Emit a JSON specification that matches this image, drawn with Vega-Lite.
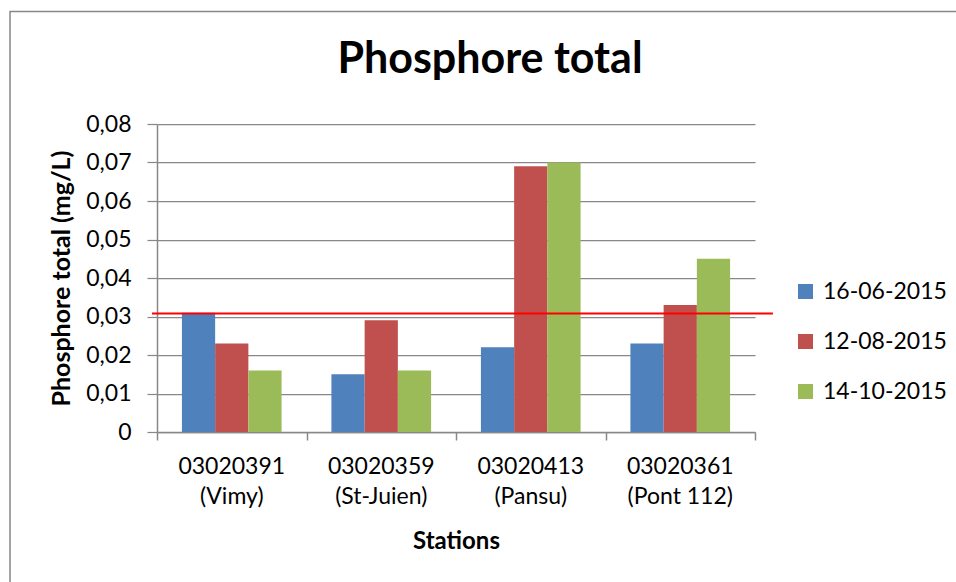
{
  "$schema": "https://vega.github.io/schema/vega-lite/v6.json",
  "width": 598,
  "height": 308,
  "autosize": {"type": "none"},
  "padding": {"left": 157, "top": 124, "right": 201, "bottom": 150},
  "background": "white",
  "config": {
    "font": "Lato",
    "view": {"stroke": null},
    "axisY": {
      "values": [0, 0.01, 0.02, 0.03, 0.04, 0.05, 0.06, 0.07, 0.08],
      "labelOverlap": false,
      "labelExpr": "datum.value == 0 ? '0' : replace(format(datum.value, '.2f'), '.', ',')",
      "grid": true, "gridColor": "#888888", "gridWidth": 1.25, "tickSize": 10, "tickColor": "#888888", "tickWidth": 1.25,
      "domainColor": "#888888", "domainWidth": 1.5, "labelFontSize": 23, "labelPadding": 16, "labelColor": "black",
      "titleFontSize": 25, "titleFontWeight": "bold", "titleColor": "black", "titlePadding": 11
    }
  },
  "title": {
    "text": "Phosphore total",
    "font": "Lato",
    "fontSize": 43,
    "fontWeight": "bold",
    "color": "black",
    "anchor": "middle",
    "frame": "group",
    "baseline": "alphabetic",
    "dx": 34,
    "dy": 105,
    "offset": 0
  },
  "layer": [
    {
      "data": {"values": [{}]},
      "mark": {"type": "rect", "fill": null, "stroke": "#878787", "strokeWidth": 1.5, "clip": false},
      "encoding": {
        "x": {"datum": -0.2458, "type": "quantitative", "scale": {"domain": [0, 1], "nice": false, "zero": false},
          "axis": {"orient": "bottom", "values": [0, 0.25, 0.5, 0.75, 1], "labels": false, "ticks": true, "tickSize": 8, "tickColor": "#888888", "tickWidth": 1.5, "domain": true, "domainColor": "#888888", "domainWidth": 1.5, "grid": false, "title": null}},
        "x2": {"datum": 1.6},
        "y": {"datum": 0.1092, "type": "quantitative", "scale": {"domain": [0, 0.08], "nice": false}, "title": "Phosphore total (mg/L)"},
        "y2": {"datum": -0.1}
      }
    },
    {
      "data": {"values": [
        {"station": "03020391 (Vimy)", "date": "16-06-2015", "value": 0.031},
        {"station": "03020391 (Vimy)", "date": "12-08-2015", "value": 0.023},
        {"station": "03020391 (Vimy)", "date": "14-10-2015", "value": 0.016},
        {"station": "03020359 (St-Juien)", "date": "16-06-2015", "value": 0.015},
        {"station": "03020359 (St-Juien)", "date": "12-08-2015", "value": 0.029},
        {"station": "03020359 (St-Juien)", "date": "14-10-2015", "value": 0.016},
        {"station": "03020413 (Pansu)", "date": "16-06-2015", "value": 0.022},
        {"station": "03020413 (Pansu)", "date": "12-08-2015", "value": 0.069},
        {"station": "03020413 (Pansu)", "date": "14-10-2015", "value": 0.070},
        {"station": "03020361 (Pont 112)", "date": "16-06-2015", "value": 0.023},
        {"station": "03020361 (Pont 112)", "date": "12-08-2015", "value": 0.033},
        {"station": "03020361 (Pont 112)", "date": "14-10-2015", "value": 0.045}
      ]},
      "mark": {"type": "bar"},
      "encoding": {
        "x": {"field": "station", "type": "nominal", "sort": null,
          "scale": {"paddingInner": 0.3333, "paddingOuter": 0.1667},
          "axis": {"orient": "bottom", "title": "Stations", "labelExpr": "[slice(datum.label, 0, 8), slice(datum.label, 9)]",
            "ticks": false, "domain": false, "grid": false, "labelAngle": 0, "labelFontSize": 23, "labelLineHeight": 30,
            "labelPadding": 23, "labelColor": "black", "labelBaseline": "top",
            "titleFontSize": 24, "titleFontWeight": "bold", "titleColor": "black", "titlePadding": 21}},
        "xOffset": {"field": "date", "type": "nominal", "sort": null},
        "y": {"field": "value", "type": "quantitative", "scale": {"domain": [0, 0.08], "nice": false}, "title": "Phosphore total (mg/L)"},
        "color": {"field": "date", "type": "nominal", "sort": null,
          "scale": {"domain": ["16-06-2015", "12-08-2015", "14-10-2015"], "range": ["#4F81BD", "#C0504D", "#9BBB59"]},
          "legend": {"orient": "none", "legendX": 637, "legendY": 156, "title": null, "symbolType": "square",
            "symbolSize": 225, "symbolStrokeWidth": 0, "labelFontSize": 23, "labelColor": "black", "labelOffset": 6, "rowPadding": 26, "padding": 0}}
      }
    },
    {
      "data": {"values": [{"seuil": 0.0308}]},
      "mark": {"type": "rule", "color": "#FF0000", "strokeWidth": 2, "clip": false},
      "encoding": {
        "x": {"datum": -0.0084, "type": "quantitative", "scale": {"domain": [0, 1], "nice": false, "zero": false}, "axis": null},
        "x2": {"datum": 1.03},
        "y": {"field": "seuil", "type": "quantitative", "scale": {"domain": [0, 0.08], "nice": false}, "title": "Phosphore total (mg/L)"}
      }
    }
  ],
  "resolve": {"scale": {"x": "independent"}, "axis": {"x": "independent"}}
}
